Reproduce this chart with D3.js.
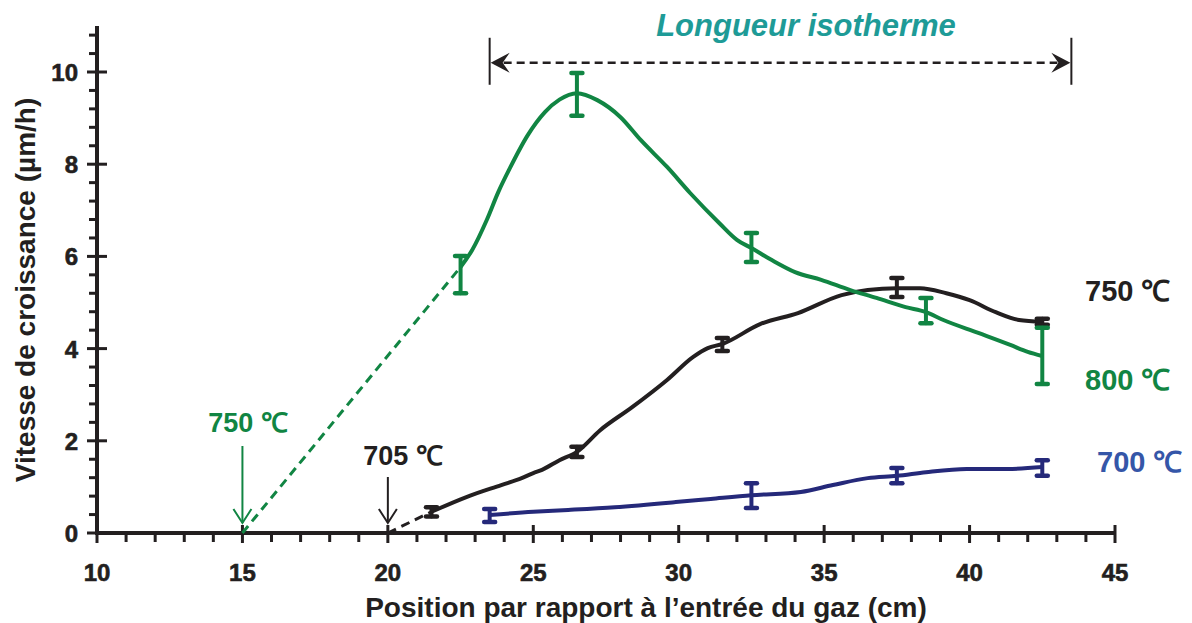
<!DOCTYPE html>
<html>
<head>
<meta charset="utf-8">
<script src="https://cdn.jsdelivr.net/npm/d3@7"></script>
<style>
  body { margin: 0; background: #fff; }
  text { font-family: "Liberation Sans", Arial, sans-serif; font-weight: bold; }
</style>
</head>
<body>
<script>
// ── Data ─────────────────────────────────────────────────────────────
const xTicks = [10, 15, 20, 25, 30, 35, 40, 45];
const yTicks = [0, 2, 4, 6, 8, 10];

// 800 °C (green)
const curve800X = [22.5, 22.9, 23.4, 23.8, 24.2, 24.8, 25.4, 25.9, 26.5, 27.2, 28.0, 28.7, 29.6, 30.4, 31.4, 32.0, 32.5, 33.2, 34.0, 34.9, 35.9, 36.8, 37.8, 38.5, 39.1, 40.3, 41.4, 42.0, 42.5];
const curve800Y = [5.77, 6.14, 6.79, 7.40, 7.92, 8.62, 9.13, 9.40, 9.54, 9.39, 9.02, 8.52, 7.94, 7.37, 6.72, 6.36, 6.18, 5.92, 5.66, 5.49, 5.27, 5.10, 4.90, 4.79, 4.62, 4.34, 4.08, 3.93, 3.84];
const err800X = [22.5, 26.5, 32.5, 38.5, 42.5];
const err800Low = [5.2, 9.05, 5.88, 4.55, 3.23];
const err800High = [6.01, 9.98, 6.51, 5.10, 4.45];

// 750 °C (black)
const curve750X = [21.5, 22.7, 23.9, 24.6, 25.0, 25.3, 25.9, 26.5, 27.3, 28.4, 29.6, 30.5, 31.0, 31.5, 32.8, 34.1, 35.6, 36.5, 37.5, 38.3, 39.2, 40.0, 40.9, 41.7, 42.5];
const curve750Y = [0.46, 0.78, 1.04, 1.19, 1.30, 1.37, 1.58, 1.76, 2.23, 2.73, 3.32, 3.82, 4.01, 4.10, 4.53, 4.77, 5.16, 5.27, 5.31, 5.31, 5.20, 5.05, 4.79, 4.62, 4.58];
const err750X = [21.5, 26.5, 31.5, 37.5, 42.5];
const err750Low = [0.36, 1.65, 3.95, 5.12, 4.52];
const err750High = [0.56, 1.87, 4.23, 5.53, 4.65];

// 700 °C (blue)
const curve700X = [23.5, 25.0, 26.2, 27.8, 29.9, 31.1, 32.5, 34.2, 35.3, 36.5, 37.5, 38.5, 39.9, 41.3, 42.5];
const curve700Y = [0.39, 0.46, 0.50, 0.56, 0.67, 0.74, 0.82, 0.89, 1.04, 1.19, 1.24, 1.32, 1.39, 1.39, 1.43];
const err700X = [23.5, 32.5, 37.5, 42.5];
const err700Low = [0.24, 0.54, 1.08, 1.24];
const err700High = [0.52, 1.08, 1.41, 1.58];

// onset extrapolations (dashed) : start on the x axis
const onset800 = [15, 0];
const onset750 = [20, 0];
const isothermRange = [23.5, 43.5];
const isothermLevel = 10.2;

// ── Setup ────────────────────────────────────────────────────────────
const width = 1192;
const height = 623;
const axisColor = '#231f20';
const green = '#118543';
const black = '#231f20';
const navy = '#25297a';

const svg = d3.select('body')
    .append('svg')
    .attr('width', width)
    .attr('height', height);

const x = d3.scaleLinear().domain([10, 45]).range([97, 1115]);
const y = d3.scaleLinear().domain([0, 11]).range([533, 25.9]);

const line = d3.line()
    .x(d => x(d[0]))
    .y(d => y(d[1]))
    .curve(d3.curveMonotoneX);

const zip = (a, b) => a.map((v, i) => [v, b[i]]);

// ── Axes ─────────────────────────────────────────────────────────────
svg.append('line')
    .attr('x1', x(10)).attr('x2', x(45))
    .attr('y1', y(0)).attr('y2', y(0))
    .attr('stroke', axisColor).attr('stroke-width', 4);

svg.append('line')
    .attr('x1', x(10)).attr('x2', x(10))
    .attr('y1', y(0) + 2).attr('y2', y(11))
    .attr('stroke', axisColor).attr('stroke-width', 4);

// x minor + major ticks
const xMinor = d3.range(11, 45).filter(v => v % 5 !== 0);
svg.selectAll('.xminor')
    .data(xMinor)
    .join('line')
    .attr('x1', d => x(d)).attr('x2', d => x(d))
    .attr('y1', y(0)).attr('y2', y(0) + 9)
    .attr('stroke', axisColor).attr('stroke-width', 3);

svg.selectAll('.xmajor')
    .data(xTicks)
    .join('line')
    .attr('x1', d => x(d)).attr('x2', d => x(d))
    .attr('y1', y(0) - 8).attr('y2', y(0) + 10)
    .attr('stroke', axisColor).attr('stroke-width', 3);

svg.selectAll('.xlabel')
    .data(xTicks)
    .join('text')
    .attr('x', d => x(d))
    .attr('y', 581)
    .attr('text-anchor', 'middle')
    .style('font-size', '24px')
    .style('fill', axisColor)
    .style('stroke', axisColor).style('stroke-width', 0.6)
    .text(d => d);

// y minor + major ticks
const yMinor = d3.range(1, 28).map(i => +(i * 0.4).toFixed(1)).filter(v => v % 2 !== 0 && v <= 11);
svg.selectAll('.yminor')
    .data(yMinor)
    .join('line')
    .attr('x1', x(10) - 8).attr('x2', x(10))
    .attr('y1', d => y(d)).attr('y2', d => y(d))
    .attr('stroke', axisColor).attr('stroke-width', 3);

svg.selectAll('.ymajor')
    .data(yTicks)
    .join('line')
    .attr('x1', x(10) - 10).attr('x2', x(10) + 10)
    .attr('y1', d => y(d)).attr('y2', d => y(d))
    .attr('stroke', axisColor).attr('stroke-width', 3);

svg.selectAll('.ylabel')
    .data(yTicks)
    .join('text')
    .attr('x', 78)
    .attr('y', d => y(d) + 9)
    .attr('text-anchor', 'end')
    .style('font-size', '24px')
    .style('fill', axisColor)
    .style('stroke', axisColor).style('stroke-width', 0.6)
    .text(d => d);

// axis titles
svg.append('text')
    .attr('x', 646)
    .attr('y', 617)
    .attr('text-anchor', 'middle')
    .style('font-size', '28px')
    .style('fill', axisColor)
    .text('Position par rapport à l’entrée du gaz (cm)');

svg.append('text')
    .attr('transform', `translate(35, ${(95 + 485) / 2}) rotate(-90)`)
    .attr('text-anchor', 'middle')
    .style('font-size', '28px')
    .style('fill', axisColor)
    .text('Vitesse de croissance (µm/h)');

// ── Dashed onset lines ───────────────────────────────────────────────
svg.append('path')
    .attr('d', d3.line().x(d => x(d[0])).y(d => y(d[1]))([onset800, [curve800X[0], curve800Y[0]]]))
    .attr('fill', 'none').attr('stroke', green)
    .attr('stroke-width', 3).attr('stroke-dasharray', '9,6');

svg.append('path')
    .attr('d', d3.line().x(d => x(d[0])).y(d => y(d[1]))([onset750, [curve750X[0], curve750Y[0]]]))
    .attr('fill', 'none').attr('stroke', black)
    .attr('stroke-width', 3).attr('stroke-dasharray', '9,6');

// ── Curves ───────────────────────────────────────────────────────────
const series = [
    { xs: curve700X, ys: curve700Y, ex: err700X, lo: err700Low, hi: err700High, color: navy },
    { xs: curve750X, ys: curve750Y, ex: err750X, lo: err750Low, hi: err750High, color: black },
    { xs: curve800X, ys: curve800Y, ex: err800X, lo: err800Low, hi: err800High, color: green }
];

series.forEach(s => {
    svg.append('path')
        .attr('d', line(zip(s.xs, s.ys)))
        .attr('fill', 'none')
        .attr('stroke', s.color)
        .attr('stroke-width', 4)
        .attr('stroke-linejoin', 'round');

    const bars = svg.append('g')
        .attr('stroke', s.color)
        .attr('stroke-linecap', 'round');

    s.ex.forEach((ex, i) => {
        bars.append('line')
            .attr('x1', x(ex)).attr('x2', x(ex))
            .attr('y1', y(s.lo[i])).attr('y2', y(s.hi[i]))
            .attr('stroke-width', 4);
        [s.lo[i], s.hi[i]].forEach(v => {
            bars.append('line')
                .attr('x1', x(ex) - 5.5).attr('x2', x(ex) + 5.5)
                .attr('y1', y(v)).attr('y2', y(v))
                .attr('stroke-width', 4.5);
        });
    });
});

// ── Isotherm length annotation ───────────────────────────────────────
const iy = y(isothermLevel);
const ix0 = x(isothermRange[0]);
const ix1 = x(isothermRange[1]);

svg.append('line')
    .attr('x1', ix0 + 14).attr('x2', ix1 - 14)
    .attr('y1', iy).attr('y2', iy)
    .attr('stroke', black).attr('stroke-width', 2.5)
    .attr('stroke-dasharray', '8,5');

[ix0, ix1].forEach(px => {
    svg.append('line')
        .attr('x1', px).attr('x2', px)
        .attr('y1', iy - 25).attr('y2', iy + 22)
        .attr('stroke', black).attr('stroke-width', 2);
});

svg.append('path')
    .attr('d', `M${ix0 + 1},${iy} L${ix0 + 20},${iy - 10} L${ix0 + 13},${iy} L${ix0 + 20},${iy + 10} Z`)
    .attr('fill', black);
svg.append('path')
    .attr('d', `M${ix1 - 1},${iy} L${ix1 - 20},${iy - 10} L${ix1 - 13},${iy} L${ix1 - 20},${iy + 10} Z`)
    .attr('fill', black);

svg.append('text')
    .attr('x', 806)
    .attr('y', 36)
    .attr('text-anchor', 'middle')
    .style('font-size', '31px')
    .style('font-style', 'italic')
    .style('fill', '#1e9b97')
    .text('Longueur isotherme');

// ── Onset arrows and labels ──────────────────────────────────────────
const arrows = [
    { xv: onset800[0], label: '750 ℃', color: green, top: 446, tx: 248, ty: 432 },
    { xv: onset750[0], label: '705 ℃', color: black, top: 477, tx: 403, ty: 465 }
];

arrows.forEach(a => {
    const px = x(a.xv);
    svg.append('line')
        .attr('x1', px).attr('x2', px)
        .attr('y1', a.top).attr('y2', y(0) - 10)
        .attr('stroke', a.color).attr('stroke-width', 2);
    svg.append('path')
        .attr('d', `M${px - 9},${y(0) - 24} L${px},${y(0) - 10} L${px + 9},${y(0) - 24}`)
        .attr('fill', 'none')
        .attr('stroke', a.color).attr('stroke-width', 2);
    svg.append('text')
        .attr('x', a.tx)
        .attr('y', a.ty)
        .attr('text-anchor', 'middle')
        .style('font-size', '27px')
        .style('fill', a.color)
        .text(a.label);
});

// ── Series labels ────────────────────────────────────────────────────
const seriesLabels = [
    { text: '750 ℃', color: black, lx: 1085, ly: 301 },
    { text: '800 ℃', color: green, lx: 1085, ly: 390 },
    { text: '700 ℃', color: '#3556a8', lx: 1097, ly: 472 }
];

svg.selectAll('.slabel')
    .data(seriesLabels)
    .join('text')
    .attr('x', d => d.lx)
    .attr('y', d => d.ly)
    .style('font-size', '29px')
    .style('fill', d => d.color)
    .text(d => d.text);
</script>
</body>
</html>
